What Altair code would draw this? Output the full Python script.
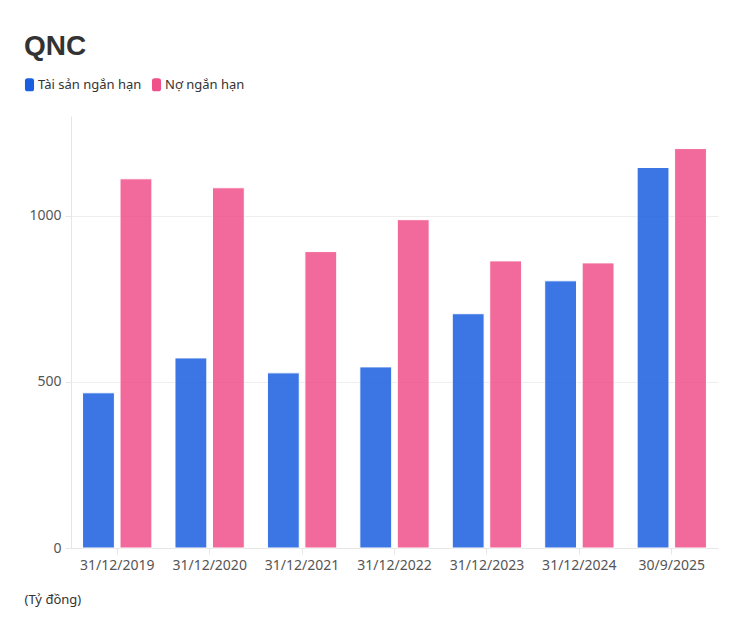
import altair as alt
import pandas as pd

periods = ["31/12/2019", "31/12/2020", "31/12/2021", "31/12/2022", "31/12/2023", "31/12/2024", "30/9/2025"]
series_names = ["Tài sản ngắn hạn", "Nợ ngắn hạn"]
tai_san = [467, 572, 527, 545, 705, 804, 1145]
no_ngan_han = [1111, 1084, 892, 988, 864, 858, 1202]
colors = ["#1a5fe0", "#f0508a"]

rows = []
for i, p in enumerate(periods):
    rows.append({"period": p, "series": series_names[0], "value": tai_san[i]})
    rows.append({"period": p, "series": series_names[1], "value": no_ngan_han[i]})
df = pd.DataFrame(rows)

FONT = "Noto Sans"
rr = ("M-0.7,-0.6 Q-0.7,-1 -0.3,-1 L0.3,-1 Q0.7,-1 0.7,-0.6 "
      "L0.7,0.6 Q0.7,1 0.3,1 L-0.3,1 Q-0.7,1 -0.7,0.6 Z")

chart = alt.Chart(df).mark_bar(opacity=0.85, stroke="white", strokeWidth=1).encode(
    x=alt.X("period:N", sort=periods,
            scale=alt.Scale(paddingInner=0.25, paddingOuter=0.125),
            axis=alt.Axis(title="(Tỷ đồng)", labelAngle=0, labelFontSize=14, labelColor="#555",
                          labelFont=FONT, labelPadding=4,
                          domainColor="#e6e6e6", tickColor="#e6e6e6", tickSize=6,
                          titleFont=FONT, titleFontSize=13, titleFontWeight="normal",
                          titleColor="#333", titleAnchor="start", titleAlign="left",
                          titleX=-47, titleY=55, titleBaseline="alphabetic")),
    xOffset=alt.XOffset("series:N", sort=series_names,
                        scale=alt.Scale(paddingInner=0.15, paddingOuter=0)),
    y=alt.Y("value:Q", scale=alt.Scale(domain=[0, 1300], nice=False),
            axis=alt.Axis(title=None, values=[0, 500, 1000], format="d",
                          labelFontSize=14, labelColor="#555",
                          labelFont=FONT, labelPadding=4,
                          gridColor="#eeeeee", domainColor="#e6e6e6", tickColor="#e6e6e6",
                          tickSize=6)),
    color=alt.Color("series:N", sort=series_names,
                    scale=alt.Scale(domain=series_names, range=colors),
                    legend=alt.Legend(title=None, orient="none", direction="horizontal",
                                      legendX=-48, legendY=-38,
                                      symbolType=rr, symbolSize=169, symbolOpacity=1,
                                      symbolStrokeWidth=0,
                                      labelFont=FONT, labelFontSize=13, labelColor="#333",
                                      labelOffset=2, columnPadding=8)),
).properties(
    width=647,
    height=432,
    title=alt.TitleParams("QNC", anchor="start", frame="group", dx=-47, offset=17,
                          font="Liberation Sans", fontSize=28,
                          fontWeight="bold", color="#333"),
    autosize=alt.AutoSizeParams(type="none"),
    padding={"left": 63, "top": 108, "right": 24, "bottom": 60},
).configure_view(stroke=None)

chart.save("out.html", embed_options={"renderer": "svg", "actions": False})
